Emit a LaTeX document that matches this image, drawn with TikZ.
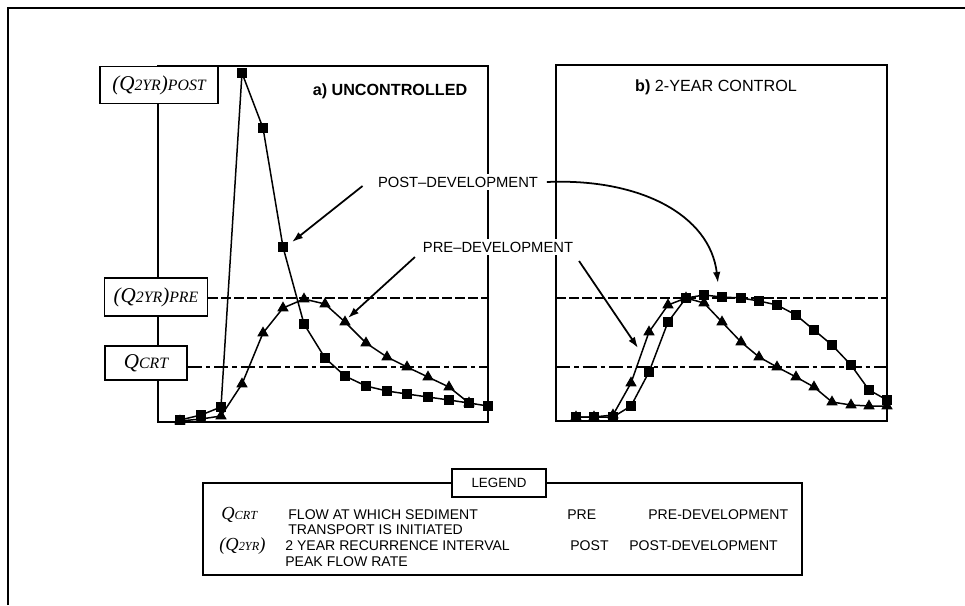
\documentclass[tikz,border=0pt]{standalone}
\usepackage{fontspec}
\setsansfont{Liberation Sans}
\newfontfamily\qfont{Liberation Serif}
\usetikzlibrary{arrows,arrows.meta,plotmarks}
\newcommand{\qsml}[1]{{\fontsize{9}{9}\selectfont #1}}
\newcommand{\qtny}[1]{{\fontsize{7}{7}\selectfont #1}}

\tikzset{
  panel/.style={line width=0.95pt},
  qbox/.style={draw,line width=0.95pt,fill=white,inner sep=0pt,
    font=\qfont\itshape\fontsize{12}{12}\selectfont},
  lvlpre/.style={line width=1pt,dash pattern=on 1.9mm off 0.7mm},
  lvlcrt/.style={line width=1pt,dash pattern=on 2.8mm off 0.8mm on 0.9mm off 0.8mm},
  sqcurve/.style={line width=0.85pt,mark=square*,mark size=2.2pt},
  tricurve/.style={line width=0.85pt,mark=triangle*,mark size=2.9pt},
  lbl/.style={font=\sffamily\fontsize{8.4}{10}\selectfont,inner sep=1.5pt,fill=white},
  ttl/.style={font=\sffamily\fontsize{9.2}{11}\selectfont,inner sep=0pt},
  leg/.style={font=\sffamily\fontsize{8}{9}\selectfont,inner sep=0pt,anchor=base west},
  legq/.style={font=\qfont\itshape\fontsize{10.5}{10.5}\selectfont,inner sep=0pt,anchor=base west},
  pointer/.style={line width=1pt,-{Latex[length=2.2mm,width=1.5mm]}},
}

\begin{document}
\begin{tikzpicture}[x=0.2mm,y=-0.2mm]
  \useasboundingbox (0,0) rectangle (965,605);
  % outer frame (left and top only)
  \draw[line width=1.3pt] (8,605) -- (8,8) -- (965,8);

  % panels
  \draw[panel] (158,66) rectangle (488,422);
  \draw[panel] (556,65) rectangle (887,421);

  % level boxes
  \node[qbox,minimum width=23.6mm,minimum height=7.4mm] (qpost) at (159,85)
      {(Q\qsml{2YR})\qsml{POST}};
  \node[qbox,minimum width=20.6mm,minimum height=7.6mm] (qpre) at (156,297)
      {(Q\qsml{2YR})\qsml{PRE}};
  \node[qbox,minimum width=16.4mm,minimum height=6.8mm] (qcrt) at (146,363)
      {Q\qsml{CRT}};

  % levels
  \coordinate (preA) at (488,298);
  \coordinate (preB) at (556,298);
  \coordinate (preC) at (887,298);
  \coordinate (crtA) at (488,367);
  \coordinate (crtB) at (556,367);
  \coordinate (crtC) at (887,367);
  \draw[lvlpre] (qpre.east |- preA) -- (preA);
  \draw[lvlpre] (preB) -- (preC);
  \draw[lvlcrt] (qcrt.east |- crtA) -- (crtA);
  \draw[lvlcrt] (crtB) -- (crtC);

  % a) uncontrolled
  \draw[tricurve] plot coordinates {(180,421) (201,419) (221,416) (242,384)
    (263,333) (283,308) (304,299) (325,304) (345,322) (366,343) (387,357)
    (407,367) (428,377) (449,387) (469,403)};
  \draw[sqcurve] plot coordinates {(180,420) (201,415) (221,407) (242,73)
    (263,128) (283,247) (304,324) (325,358) (345,376) (366,386) (387,391)
    (407,394) (428,397) (449,400) (469,403) (488,406)};

  % b) 2-year control
  \draw[tricurve] plot coordinates {(576,417) (594,417) (613,415) (631,383)
    (649,332) (668,305) (686,298) (704,303) (722,322) (741,342) (759,357)
    (777,367) (796,377) (814,387) (832,402) (851,405) (869,406) (887,406)};
  \draw[sqcurve] plot coordinates {(576,417) (594,417) (613,417) (631,406)
    (649,372) (668,322) (686,298) (704,295) (722,297) (741,298) (759,301)
    (777,305) (796,315) (814,330) (832,345) (851,365) (869,390) (887,400)};

  % titles and labels
  \node[ttl] (ttla) at (390,91) {\bfseries a) UNCONTROLLED};
  \node[ttl] (ttlb) at (716,87) {\textbf{b)} 2-YEAR CONTROL};
  \node[lbl] (postlbl) at (458,182) {POST--DEVELOPMENT};
  \node[lbl] (prelbl) at (498,247) {PRE--DEVELOPMENT};

  \coordinate (postA) at (292,242);
  \coordinate (postB) at (718,283);
  \coordinate (preTa) at (348,318);
  \coordinate (preTb) at (638,348);
  \draw[pointer] ([xshift=-2.5mm,yshift=-0.8mm]postlbl.west) -- (postA);
  \draw[pointer] ([xshift=1.2mm]postlbl.east) .. controls (640,178) and (710,215) .. (postB);
  \draw[pointer] ([xshift=-1mm,yshift=-2mm]prelbl.west) -- (preTa);
  \draw[pointer] ([xshift=0.6mm,yshift=-2.8mm]prelbl.east) -- (preTb);

  % legend
  \draw[panel] (203,483) rectangle (802,575);
  \node[draw,line width=0.95pt,fill=white,minimum width=18.8mm,minimum height=5.6mm,
    inner sep=0pt,font=\sffamily\fontsize{7.6}{9}\selectfont] (legttl) at (499,483) {LEGEND};
  \node[legq] (lqcrt) at (221,519) {Q\qtny{CRT}};
  \node[leg] (lflow) at (288,519) {FLOW AT WHICH SEDIMENT};
  \node[leg] (ltrans) at (288,534) {TRANSPORT IS INITIATED};
  \node[leg] (lpre) at (567,519) {PRE};
  \node[leg] (lpredev) at (648,519) {PRE-DEVELOPMENT};
  \node[legq] (lq2yr) at (219,550) {(Q\qtny{2YR})};
  \node[leg] (lrecur) at (285,550) {2 YEAR RECURRENCE INTERVAL};
  \node[leg] (lpeak) at (285,566) {PEAK FLOW RATE};
  \node[leg] (lpost) at (570,550) {POST};
  \node[leg] (lpostdev) at (629,550) {POST-DEVELOPMENT};
\end{tikzpicture}
\end{document}
